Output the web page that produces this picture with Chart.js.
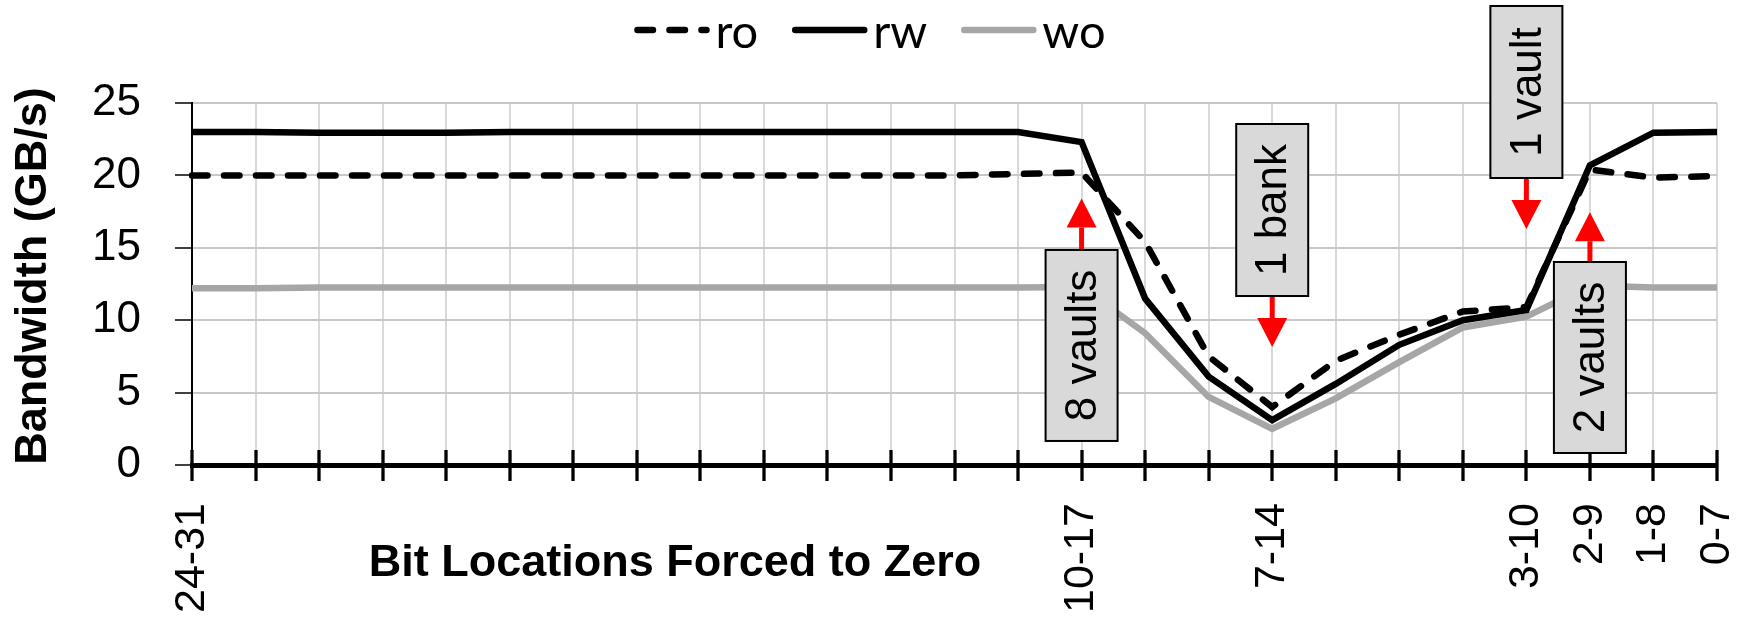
<!DOCTYPE html>
<html>
<head>
<meta charset="utf-8">
<script src="https://cdn.jsdelivr.net/npm/chart.js@4.4.1/dist/chart.umd.min.js"></script>
<style>
  html, body { margin: 0; padding: 0; background: #ffffff; }
  canvas { display: block; }
</style>
</head>
<body>
<canvas id="bw" width="1752" height="621"></canvas>
<script>
// Bit ranges forced to zero, from the high bits down to the low bits
const categories = [
  "24-31", "23-30", "22-29", "21-28", "20-27", "19-26", "18-25", "17-24",
  "16-23", "15-22", "14-21", "13-20", "12-19", "11-18", "10-17", "9-16",
  "8-15", "7-14", "6-13", "5-12", "4-11", "3-10", "2-9", "1-8", "0-7"
];

// Only these ranges get a label under the axis
const labelledTicks = ["24-31", "10-17", "7-14", "3-10", "2-9", "1-8", "0-7"];

// Bandwidth in GB/s
const roValues = [
  20.0, 20.0, 20.0, 20.0, 20.0, 20.0, 20.0, 20.0, 20.0, 20.0, 20.0, 20.0, 20.0,
  20.1, 20.2, 15.4, 7.5, 4.0, 7.2, 9.0, 10.6, 10.9, 20.4, 19.85, 19.95
];
const rwValues = [
  23.0, 23.0, 22.95, 22.95, 22.95, 23.0, 23.0, 23.0, 23.0, 23.0, 23.0, 23.0, 23.0,
  23.0, 22.3, 11.5, 6.1, 3.1, 5.6, 8.3, 10.0, 10.7, 20.7, 22.95, 23.0
];
const woValues = [
  12.2, 12.2, 12.25, 12.25, 12.25, 12.25, 12.25, 12.25, 12.25, 12.25, 12.25, 12.25, 12.25,
  12.25, 12.3, 9.1, 4.7, 2.5, 4.6, 7.1, 9.5, 10.25, 12.4, 12.25, 12.25
];

const yTicks = [0, 5, 10, 15, 20, 25];

// Callout boxes: anchored on a category, vertical extents in GB/s
const callouts = [
  { at: "10-17", text: "8 vaults", boxTop: 14.85, boxBottom: 1.66, tip: 18.4 },
  { at: "7-14",  text: "1 bank",   boxTop: 23.55, boxBottom: 11.67, tip: 8.15 },
  { at: "3-10",  text: "1 vault",  boxTop: 31.7,  boxBottom: 19.82, tip: 16.3 },
  { at: "2-9",   text: "2 vaults", boxTop: 14.02, boxBottom: 0.83,  tip: 17.45 }
];

const SANS = '"Liberation Sans", Arial, sans-serif';
const LEGEND_FONT = '47px Lato, "Liberation Sans", sans-serif';
const LINE_W = 6.5;

// Tick marks that cross the category axis
const crossTicks = {
  id: 'crossTicks',
  beforeDatasetsDraw(chart) {
    const { ctx, chartArea, scales: { x } } = chart;
    ctx.save();
    ctx.strokeStyle = '#000000';
    ctx.lineWidth = 3.3;
    for (let i = 0; i < categories.length; i++) {
      const px = Math.round(x.getPixelForValue(i));
      ctx.beginPath();
      ctx.moveTo(px, chartArea.bottom - 15);
      ctx.lineTo(px, chartArea.bottom + 16);
      ctx.stroke();
    }
    ctx.restore();
  }
};

// Grey label boxes with red arrows
const calloutBoxes = {
  id: 'calloutBoxes',
  afterDatasetsDraw(chart) {
    const { ctx, scales: { x, y } } = chart;
    const halfW = 36, headHalf = 15, headLen = 29, shaft = 5;
    ctx.save();
    for (const c of callouts) {
      const cx = x.getPixelForValue(categories.indexOf(c.at));
      const top = y.getPixelForValue(c.boxTop);
      const bottom = y.getPixelForValue(c.boxBottom);
      const tip = y.getPixelForValue(c.tip);
      const up = tip < top;
      const start = up ? top : bottom;
      const headBase = up ? tip + headLen : tip - headLen;

      ctx.fillStyle = '#ff0000';
      ctx.fillRect(cx - shaft / 2, Math.min(start, headBase), shaft, Math.abs(headBase - start));
      ctx.beginPath();
      ctx.moveTo(cx - headHalf, headBase);
      ctx.lineTo(cx + headHalf, headBase);
      ctx.lineTo(cx, tip);
      ctx.closePath();
      ctx.fill();

      ctx.fillStyle = '#d9d9d9';
      ctx.fillRect(cx - halfW, top, halfW * 2, bottom - top);
      ctx.strokeStyle = '#000000';
      ctx.lineWidth = 2;
      ctx.strokeRect(cx - halfW, top, halfW * 2, bottom - top);

      ctx.save();
      ctx.translate(cx + 2, (top + bottom) / 2);
      ctx.rotate(-Math.PI / 2);
      ctx.fillStyle = '#000000';
      ctx.font = '44px ' + SANS;
      ctx.textAlign = 'center';
      ctx.textBaseline = 'middle';
      ctx.fillText(c.text, 0, 0);
      ctx.restore();
    }
    ctx.restore();
  }
};

// Legend along the top plus both axis titles
const frameText = {
  id: 'frameText',
  afterDraw(chart) {
    const { ctx } = chart;
    ctx.save();

    // legend
    ctx.font = LEGEND_FONT;
    const sample = 75, gap = 6, spacing = 34;
    const items = chart.data.datasets.map(ds => ({ ds, w: ctx.measureText(ds.label).width }));
    const total = items.reduce((s, it) => s + sample + gap + it.w, 0) + spacing * (items.length - 1);
    let lx = 870 - total / 2;
    const ly = 30;
    for (const it of items) {
      ctx.save();
      ctx.strokeStyle = it.ds.borderColor;
      ctx.lineWidth = it.ds.borderWidth;
      ctx.lineCap = 'round';
      ctx.setLineDash(it.ds.borderDash || []);
      ctx.beginPath();
      ctx.moveTo(lx + 3, ly);
      ctx.lineTo(lx + sample - 3, ly);
      ctx.stroke();
      ctx.restore();
      ctx.fillStyle = '#000000';
      ctx.textAlign = 'left';
      ctx.textBaseline = 'alphabetic';
      ctx.fillText(it.ds.label, lx + sample + gap, 48);
      lx += sample + gap + it.w + spacing;
    }

    // axis titles
    ctx.fillStyle = '#000000';
    ctx.font = 'bold 45px ' + SANS;
    ctx.textAlign = 'center';
    ctx.textBaseline = 'alphabetic';
    ctx.fillText('Bit Locations Forced to Zero', 675, 576);

    ctx.translate(46, 276);
    ctx.rotate(-Math.PI / 2);
    ctx.fillText('Bandwidth (GB/s)', 0, 0);
    ctx.restore();
  }
};

new Chart(document.getElementById('bw'), {
  type: 'line',
  data: {
    labels: categories,
    datasets: [
      {
        label: 'ro', data: roValues,
        borderColor: '#000000', borderWidth: LINE_W, borderDash: [15.5, 16.5],
        borderCapStyle: 'round'
      },
      {
        label: 'rw', data: rwValues,
        borderColor: '#000000', borderWidth: LINE_W
      },
      {
        label: 'wo', data: woValues,
        borderColor: '#a6a6a6', borderWidth: LINE_W
      }
    ]
  },
  options: {
    responsive: false,
    devicePixelRatio: 1,
    animation: false,
    layout: { padding: { top: 103, right: 35, bottom: 0, left: 0 } },
    elements: {
      point: { radius: 0, hoverRadius: 0 },
      line: { tension: 0, borderJoinStyle: 'miter' }
    },
    plugins: {
      legend: { display: false },
      title: { display: false },
      tooltip: { enabled: false }
    },
    scales: {
      x: {
        type: 'category',
        offset: false,
        grid: { color: '#d9d9d9', lineWidth: 2, drawTicks: false },
        border: { display: true, color: '#000000', width: 5 },
        ticks: {
          autoSkip: false,
          minRotation: 90,
          maxRotation: 90,
          padding: 38,
          color: '#000000',
          font: { family: SANS, size: 43 },
          callback(value) {
            const name = categories[value];
            return labelledTicks.includes(name) ? name : '';
          }
        },
        afterFit(scale) {
          scale.height = 156;
          scale.paddingLeft = 0;
          scale.paddingRight = 0;
        }
      },
      y: {
        min: 0,
        max: 25,
        grid: { color: '#c8c8c8', lineWidth: 2, tickColor: '#000000', tickLength: 17, tickWidth: 1.5 },
        border: { display: true, color: '#000000', width: 2 },
        afterBuildTicks(scale) { scale.ticks = yTicks.map(v => ({ value: v })); },
        ticks: {
          padding: 34,
          color: '#000000',
          font: { family: SANS, size: 44 }
        },
        afterFit(scale) {
          scale.width = 192;
          scale.paddingTop = 0;
          scale.paddingBottom = 0;
        }
      }
    }
  },
  plugins: [crossTicks, calloutBoxes, frameText]
});
</script>
</body>
</html>
